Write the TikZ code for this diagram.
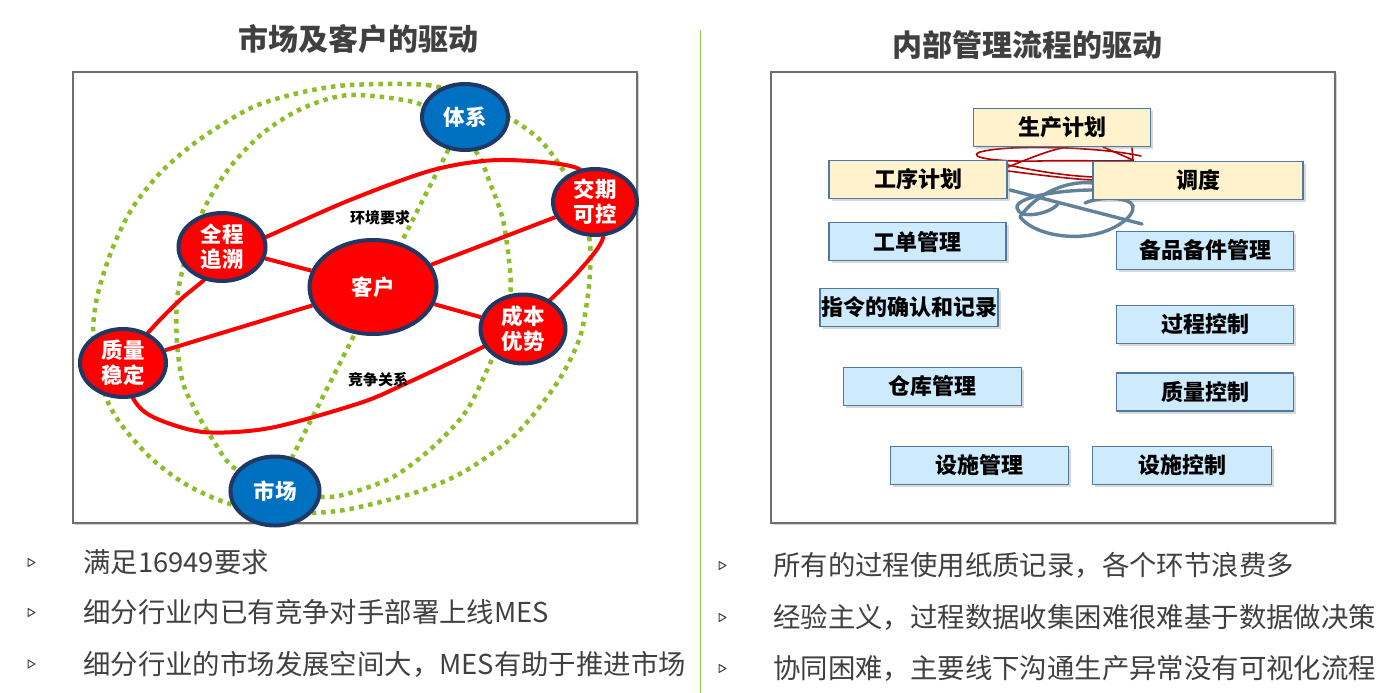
\documentclass[tikz,border=0pt]{standalone}
\usepackage{fontspec}
\setmainfont{Noto Sans CJK SC}
\usetikzlibrary{shapes.geometric,shadows}
\definecolor{ttl}{RGB}{64,64,64}
\definecolor{myred}{RGB}{255,0,0}
\definecolor{myblue}{RGB}{0,112,192}
\definecolor{navy}{RGB}{32,56,100}
\definecolor{mygreen}{RGB}{141,190,40}
\definecolor{divgreen}{RGB}{146,208,80}
\definecolor{ylw}{RGB}{255,242,204}
\definecolor{lblue}{RGB}{205,235,252}
\definecolor{boxline}{RGB}{80,120,160}
\definecolor{scrred}{RGB}{180,0,0}
\definecolor{scrblue}{RGB}{96,130,155}
\definecolor{framegray}{RGB}{110,110,110}
\pgfdeclarelayer{back}
\pgfdeclarelayer{bg}
\pgfsetlayers{back,bg,main}
\begin{document}
\begin{tikzpicture}[x=1pt,y=-1pt,
  titlefont/.style={font=\fontsize{30}{34}\selectfont\bfseries, text=ttl},
  frame/.style={draw=framegray, line width=1.2pt, fill=white,
    drop shadow={shadow xshift=2pt, shadow yshift=-2pt, opacity=0.35}},
  ball/.style={ellipse, draw=navy, line width=4pt, inner sep=0pt, text=white,
    font=\fontsize{21.5}{25}\selectfont\bfseries, align=center},
  redball/.style={ball, fill=myred},
  blueball/.style={ball, fill=myblue},
  redline/.style={draw=myred, line width=4pt},
  greendot/.style={draw=mygreen, line width=4.5pt, dash pattern=on 4.5pt off 5pt},
  lbl/.style={font=\fontsize{15}{17}\selectfont\bfseries, text=black, inner sep=0pt},
  pbox/.style={draw=boxline, line width=1.2pt, inner sep=0pt, minimum height=38pt,
    font=\fontsize{22}{24}\selectfont\bfseries, text=black,
    drop shadow={shadow xshift=2.5pt, shadow yshift=-2.5pt, opacity=0.3}},
  ybox/.style={pbox, fill=ylw},
  bbox/.style={pbox, fill=lblue},
  scrR/.style={draw=scrred, line width=1.6pt, line cap=round},
  scrB/.style={draw=scrblue, line width=3.4pt, line cap=round},
  bullet/.style={font=\fontsize{27.4}{30}\selectfont, text=ttl, anchor=west, inner sep=0pt},
  bulmark/.style={draw=ttl, line width=1pt, line join=round},
  divider/.style={draw=divgreen, line width=1pt}
]
\useasboundingbox (0,0) rectangle (1389,693);

% titles
\node[titlefont] (t1) at (358,39) {市场及客户的驱动};
\node[titlefont] (t2) at (1027,45) {内部管理流程的驱动};
\draw[divider] (700,30) -- (700,693);

% frames
\begin{pgfonlayer}{back}
\path[frame] (73,72) rectangle (637,523);
\path[frame] (771,72) rectangle (1335,523);
\end{pgfonlayer}

% ---------- left diagram ----------
\node[blueball, minimum width=86pt, minimum height=66pt] (tx) at (465,117) {体系};
\node[redball, minimum width=84pt, minimum height=66pt] (jq) at (595,202) {交期\\可控};
\node[redball, minimum width=87pt, minimum height=68pt] (qc) at (222,247) {全程\\追溯};
\node[redball, minimum width=127pt, minimum height=94pt] (kh) at (373,287) {客户};
\node[redball, minimum width=85pt, minimum height=69pt] (cb) at (523,329) {成本\\优势};
\node[redball, minimum width=86pt, minimum height=68pt] (zl) at (123,363) {质量\\稳定};
\node[blueball, minimum width=89pt, minimum height=69pt] (sc) at (275,491) {市场};

\node[lbl] (hj) at (380,218) {环境要求};
\node[lbl] (jz) at (378,380) {竞争关系};

\begin{pgfonlayer}{bg}
% green dotted loops
\draw[greendot] plot[smooth cycle] coordinates {
  (350,85) (427,85) (470,98) (510,118) (540,140) (563,170) (582,205) (590,243)
  (590,272) (587,302) (579,340) (557,383) (517,433) (467,470) (417,492) (350,509)
  (310,513) (270,512) (227,503) (187,485) (153,460) (123,427) (107,400) (97,365)
  (93,330) (98,293) (113,247) (133,207) (163,170) (203,137) (253,107) (303,92)};
\draw[greendot] plot[smooth cycle] coordinates {
  (350,95) (417,103) (447,125) (477,153) (490,183) (503,220) (510,270) (510,300)
  (505,330) (493,357) (467,410) (433,447) (393,477) (350,493) (323,497) (275,490)
  (233,467) (213,440) (197,413) (183,383) (177,343) (177,300) (183,268) (193,235)
  (207,203) (230,167) (263,133) (303,108)};
\draw[greendot] (tx) -- (sc);
% red loop
\draw[redline] plot[smooth cycle] coordinates {
  (235,250) (266,237) (350,200) (433,170) (500,160) (577,168) (600,200) (603,238)
  (580,270) (550,300) (520,326) (483,347) (407,383) (360,403) (270,428) (203,432)
  (153,417) (133,398) (128,365) (148,333) (180,300) (204,280)};
\draw[redline] (kh) -- (qc);
\draw[redline] (kh) -- (jq);
\draw[redline] (kh) -- (cb);
\draw[redline] (kh) -- (zl);
\end{pgfonlayer}

% ---------- right diagram ----------
% scribbles
\draw[scrR] (1141,156) .. controls (1100,147) and (1010,144) .. (980,152)
  .. controls (965,158) and (1000,162) .. (1040,161) .. controls (1080,160) and (1120,162) .. (1133,160);
\draw[scrR] (1008,167) .. controls (1030,158) and (1050,150) .. (1063,148);
\draw[scrR] (1008,165) .. controls (1040,172) and (1070,176) .. (1093,177);
\draw[scrR] (1008,171) .. controls (1040,175) and (1070,179) .. (1093,180);
\draw[scrR] (1103,147) -- (1133,160) -- (1132,148);
\draw[scrB] (1010,190) -- (1142,224);
\draw[scrB] (1093,183) .. controls (1065,180) and (1035,195) .. (1020,217);
\draw[scrB] (1093,190) .. controls (1060,190) and (1015,197) .. (1017,208)
  .. controls (1019,220) and (1050,214) .. (1058,204);
\draw[scrB] (1020,217) .. controls (1032,232) and (1060,238) .. (1083,236)
  .. controls (1110,234) and (1135,218) .. (1133,206)
  .. controls (1130,197) and (1100,196) .. (1085,203);

\node[ybox, minimum width=177pt] (scjh) at (1062,127.5) {生产计划};
\node[ybox, minimum width=178pt] (gxjh) at (918,179.5) {工序计划};
\node[ybox, minimum width=210pt] (dd) at (1198,180.5) {调度};
\node[bbox, minimum width=177pt] (gdgl) at (917.5,241.7) {工单管理};
\node[bbox, minimum width=177pt] (bpgl) at (1205,250.3) {备品备件管理};
\node[bbox, minimum width=178pt] (zljl) at (909,307.3) {指令的确认和记录};
\node[bbox, minimum width=177pt] (gckz) at (1205,324.5) {过程控制};
\node[bbox, minimum width=178pt] (ckgl) at (932.7,386.5) {仓库管理};
\node[bbox, minimum width=177pt] (zlkz) at (1205,392) {质量控制};
\node[bbox, minimum width=178pt] (ssgl) at (979.5,465.5) {设施管理};
\node[bbox, minimum width=179pt] (sskz) at (1182,465.5) {设施控制};

% ---------- bullets ----------
\draw[bulmark] (28,558.5) -- (35,562.5) -- (28,566.5) -- cycle;
\draw[bulmark] (28,608.5) -- (35,612.5) -- (28,616.5) -- cycle;
\draw[bulmark] (28,660) -- (35,664) -- (28,668) -- cycle;
\node[bullet] (b1) at (83,562) {满足16949要求};
\node[bullet] (b2) at (83,612) {细分行业内已有竞争对手部署上线MES};
\node[bullet] (b3) at (83,664) {细分行业的市场发展空间大，MES有助于推进市场};

\draw[bulmark] (719,561.5) -- (726,565.5) -- (719,569.5) -- cycle;
\draw[bulmark] (719,613.5) -- (726,617.5) -- (719,621.5) -- cycle;
\draw[bulmark] (719,664.5) -- (726,668.5) -- (719,672.5) -- cycle;
\node[bullet] (b4) at (773,565) {所有的过程使用纸质记录，各个环节浪费多};
\node[bullet] (b5) at (773,617) {经验主义，过程数据收集困难很难基于数据做决策};
\node[bullet] (b6) at (773,668) {协同困难，主要线下沟通生产异常没有可视化流程};
\end{tikzpicture}
\end{document}
